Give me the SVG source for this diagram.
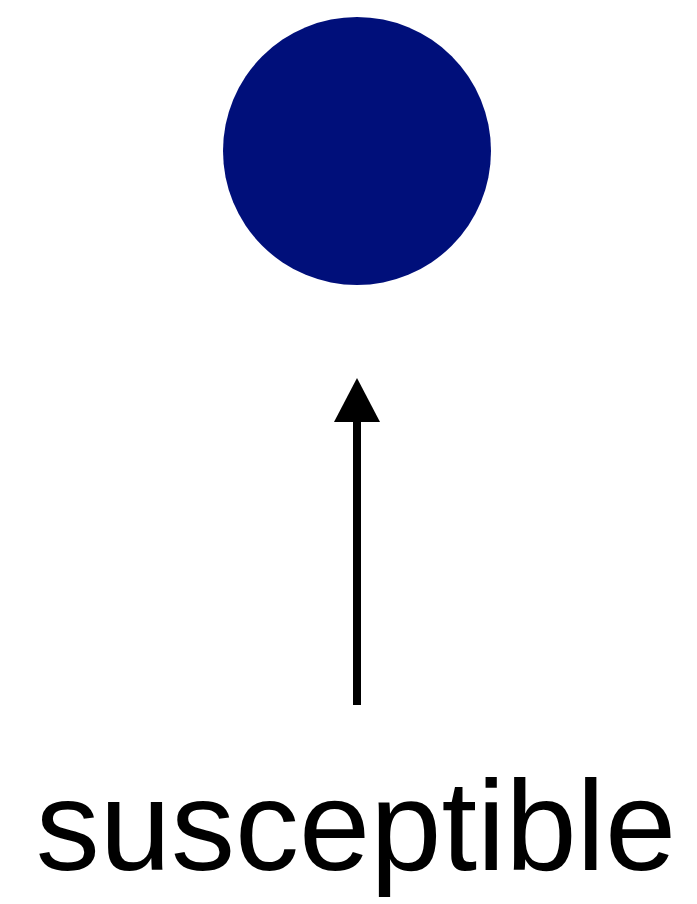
<svg xmlns="http://www.w3.org/2000/svg" width="697" height="904" viewBox="0 0 697 904">
<style>
.lbl{font-family:"Liberation Sans",Arial,sans-serif;font-size:128px;fill:#000}
</style>
<defs>
<marker id="ah" markerUnits="userSpaceOnUse" markerWidth="46" markerHeight="46" refX="2" refY="23" orient="auto" overflow="visible">
<path d="M0,0 L44,23 L0,46 Z" fill="#000"/>
</marker>
</defs>
<rect width="697" height="904" fill="#fff"/>
<g id="node-circle">
<circle cx="357" cy="151" r="134" fill="#000F7A"/>
</g>
<g id="connectors">
<line x1="357" y1="705" x2="357" y2="420" stroke="#000" stroke-width="8" marker-end="url(#ah)"/>
</g>
<g id="node-label">
<text class="lbl" x="356" y="870" text-anchor="middle">susceptible</text>
</g>
</svg>
